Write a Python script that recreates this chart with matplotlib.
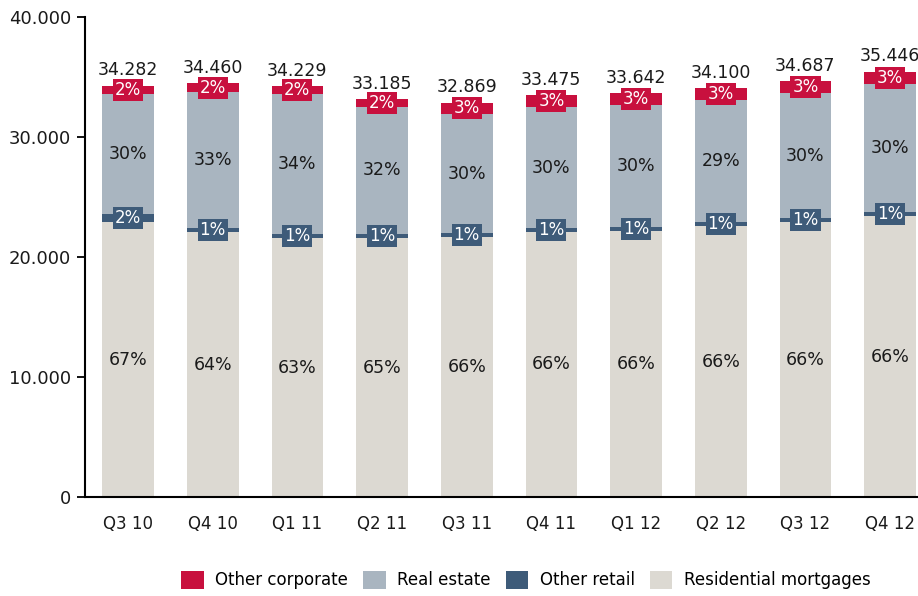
import matplotlib
matplotlib.use("Agg")
import matplotlib.pyplot as plt
import numpy as np

# data
quarters = ["Q3 10", "Q4 10", "Q1 11", "Q2 11", "Q3 11", "Q4 11", "Q1 12", "Q2 12", "Q3 12", "Q4 12"]
totals = [34282, 34460, 34229, 33185, 32869, 33475, 33642, 34100, 34687, 35446]
total_labels = ["34.282", "34.460", "34.229", "33.185", "32.869", "33.475", "33.642", "34.100", "34.687", "35.446"]

residential = [22900, 22050, 21560, 21570, 21690, 22090, 22200, 22580, 22900, 23394]
other_retail = [650, 345, 342, 332, 329, 335, 336, 341, 347, 354]
real_estate = [10046, 11376, 11642, 10619, 9864, 10046, 10097, 10156, 10399, 10635]
other_corp = [686, 689, 685, 664, 986, 1004, 1009, 1023, 1041, 1063]

res_pct = ["67%", "64%", "63%", "65%", "66%", "66%", "66%", "66%", "66%", "66%"]
retail_pct = ["2%", "1%", "1%", "1%", "1%", "1%", "1%", "1%", "1%", "1%"]
re_pct = ["30%", "33%", "34%", "32%", "30%", "30%", "30%", "29%", "30%", "30%"]
corp_pct = ["2%", "2%", "2%", "2%", "3%", "3%", "3%", "3%", "3%", "3%"]

c_corp = "#c8103e"
c_re = "#a9b5c0"
c_retail = "#3e5b79"
c_res = "#dcd9d2"

fig = plt.figure(figsize=(9.18, 5.96), dpi=100)
ax = fig.add_axes([85/918, 99/596, 1 - 85/918, 480/596])

x = np.arange(len(quarters))
w = 0.61
res = np.array(residential)
ret = np.array(other_retail)
rea = np.array(real_estate)
cor = np.array(other_corp)

ax.bar(x, res, w, color=c_res, label="Residential mortgages")
ax.bar(x, ret, w, bottom=res, color=c_retail, label="Other retail")
ax.bar(x, rea, w, bottom=res + ret, color=c_re, label="Real estate")
ax.bar(x, cor, w, bottom=res + ret + rea, color=c_corp, label="Other corporate")

for i in range(len(x)):
    ax.text(x[i], res[i] / 2, res_pct[i], ha="center", va="center", fontsize=12.5, color="#1a1a1a")
    ax.text(x[i], res[i] + ret[i] + rea[i] / 2, re_pct[i], ha="center", va="center", fontsize=12.5, color="#1a1a1a")
    ax.text(x[i], res[i] + ret[i] / 2, retail_pct[i], ha="center", va="center", fontsize=12, color="white",
            bbox=dict(boxstyle="square,pad=0.12", fc=c_retail, ec="none"))
    ax.text(x[i], res[i] + ret[i] + rea[i] + cor[i] / 2, corp_pct[i], ha="center", va="center", fontsize=12,
            color="white", bbox=dict(boxstyle="square,pad=0.12", fc=c_corp, ec="none"))
    ax.annotate(total_labels[i], (x[i], totals[i]), xytext=(0, 4.5), textcoords="offset points",
                ha="center", va="bottom", fontsize=12.5, color="#1a1a1a")

ax.set_xlim(-0.508, 9.33)
ax.set_ylim(0, 40000)
ax.set_yticks([0, 10000, 20000, 30000, 40000])
ax.set_yticklabels(["0", "10.000", "20.000", "30.000", "40.000"], fontsize=13, color="#1a1a1a")
ax.set_xticks(x)
ax.set_xticklabels(quarters, fontsize=12, color="#1a1a1a")
ax.tick_params(axis="x", length=0, pad=13)
ax.tick_params(axis="y", length=6, width=1.3, direction="out", pad=4)
ax.spines["top"].set_visible(False)
ax.spines["right"].set_visible(False)
ax.spines["left"].set_linewidth(1.5)
ax.spines["bottom"].set_linewidth(1.5)

handles, labels = ax.get_legend_handles_labels()
fig.legend(handles[::-1], labels[::-1], loc="center", bbox_to_anchor=(526/918, 1 - 580/596), ncol=4,
           frameon=False, fontsize=12, handlelength=1.35, handleheight=1.35, handletextpad=0.7, columnspacing=0.9)

fig.savefig("out.png", dpi=100)
